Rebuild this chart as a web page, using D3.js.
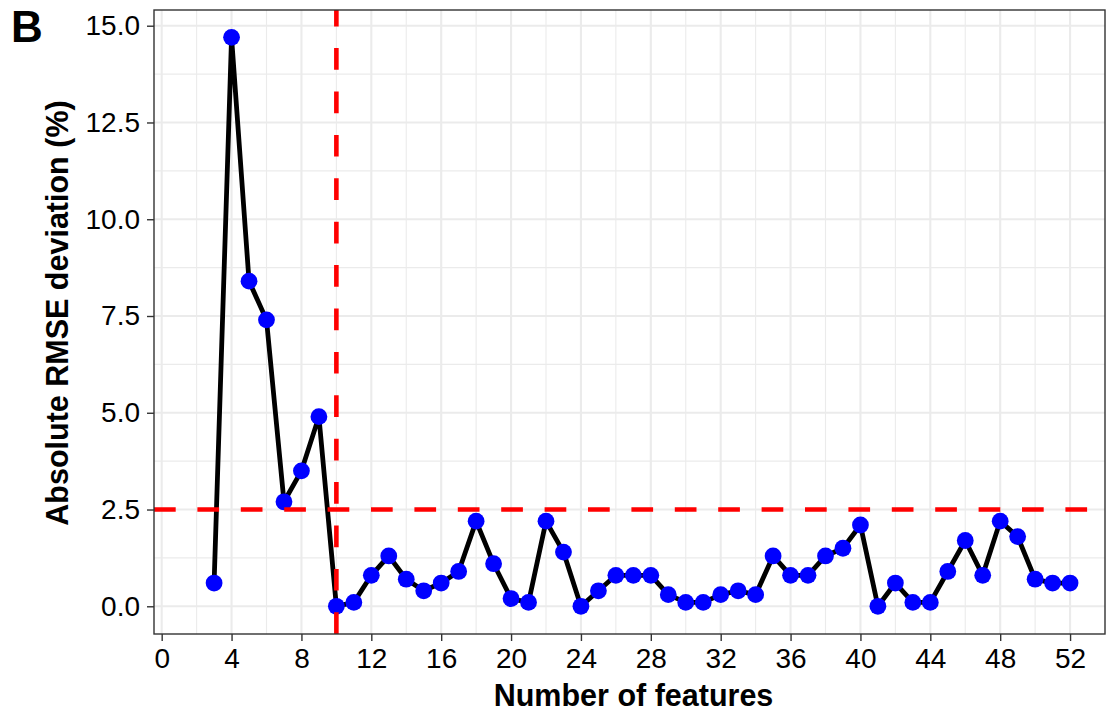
<!DOCTYPE html>
<html>
<head>
<meta charset="utf-8">
<script src="https://cdn.jsdelivr.net/npm/d3@7"></script>
<style>
  html, body { margin: 0; padding: 0; background: #fff; }
  svg { display: block; }
  text { font-family: "Liberation Sans", Arial, Helvetica, sans-serif; }
</style>
</head>
<body>
<svg id="chart" width="1106" height="711"></svg>
<script>
// ---- data ----
const features = [3,4,5,6,7,8,9,10,11,12,13,14,15,16,17,18,19,20,21,22,23,24,25,26,27,
  28,29,30,31,32,33,34,35,36,37,38,39,40,41,42,43,44,45,46,47,48,49,50,51,52];
const deviation = [0.6,14.7,8.4,7.4,2.7,3.5,4.9,0.0,0.1,0.8,1.3,0.7,0.4,0.6,0.9,2.2,1.1,0.2,0.1,2.2,1.4,0.0,0.4,0.8,0.8,
  0.8,0.3,0.1,0.1,0.3,0.4,0.3,1.3,0.8,0.8,1.3,1.5,2.1,0.0,0.6,0.1,0.1,0.9,1.7,0.8,2.2,1.8,0.7,0.6,0.6];
const xTicks = [0,4,8,12,16,20,24,28,32,36,40,44,48,52];
const xMinor = [2,6,10,14,18,22,26,30,34,38,42,46,50];
const yTicks = [0,2.5,5,7.5,10,12.5,15];
const yMinor = [1.25,3.75,6.25,8.75,11.25,13.75];
const vlineX = 10;
const hlineY = 2.5;
const xLabel = "Number of features";
const yLabel = "Absolute RMSE deviation (%)";
const panelTag = "B";

// ---- layout ----
const L = 154, R = 1105, T = 10, B = 634;
const svg = d3.select("#chart");
const x = d3.scaleLinear().domain([-0.44, 54.0]).range([L, R]);
const y = d3.scaleLinear().domain([-0.716, 15.406]).range([B, T]);

svg.append("defs").append("clipPath").attr("id", "clip")
  .append("rect").attr("x", L).attr("y", T).attr("width", R - L).attr("height", B - T);

const grid = svg.append("g");
grid.selectAll(".xminor").data(xMinor).join("line")
  .attr("x1", d => x(d)).attr("x2", d => x(d)).attr("y1", T).attr("y2", B)
  .attr("stroke", "#ebebeb").attr("stroke-width", 1.1);
grid.selectAll(".yminor").data(yMinor).join("line")
  .attr("y1", d => y(d)).attr("y2", d => y(d)).attr("x1", L).attr("x2", R)
  .attr("stroke", "#ebebeb").attr("stroke-width", 1.1);
grid.selectAll(".xmajor").data(xTicks).join("line")
  .attr("x1", d => x(d)).attr("x2", d => x(d)).attr("y1", T).attr("y2", B)
  .attr("stroke", "#ebebeb").attr("stroke-width", 2.1);
grid.selectAll(".ymajor").data(yTicks).join("line")
  .attr("y1", d => y(d)).attr("y2", d => y(d)).attr("x1", L).attr("x2", R)
  .attr("stroke", "#ebebeb").attr("stroke-width", 2.1);

const plot = svg.append("g").attr("clip-path", "url(#clip)");
const pts = features.map((f, i) => ({ f, v: deviation[i] }));

plot.append("path").datum(pts)
  .attr("fill", "none").attr("stroke", "#000").attr("stroke-width", 4.8)
  .attr("stroke-linejoin", "round")
  .attr("d", d3.line().x(d => x(d.f)).y(d => y(d.v)));

plot.selectAll("circle").data(pts).join("circle")
  .attr("cx", d => x(d.f)).attr("cy", d => y(d.v)).attr("r", 8.4)
  .attr("fill", "#0000ff");

// reference lines (drawn on top)
plot.append("line")
  .attr("x1", L).attr("x2", R).attr("y1", y(hlineY)).attr("y2", y(hlineY))
  .attr("stroke", "#ff0000").attr("stroke-width", 4.6).attr("stroke-dasharray", "21.7,21.7");
plot.append("line")
  .attr("x1", x(vlineX)).attr("x2", x(vlineX)).attr("y1", B).attr("y2", T)
  .attr("stroke", "#ff0000").attr("stroke-width", 4.6).attr("stroke-dasharray", "21.7,21.7");

// panel border
svg.append("rect").attr("x", L).attr("y", T).attr("width", R - L).attr("height", B - T)
  .attr("fill", "none").attr("stroke", "#333").attr("stroke-width", 1.4);

// axes
const xAxis = svg.append("g").attr("transform", `translate(0,${B})`)
  .call(d3.axisBottom(x).tickValues(xTicks).tickSize(7).tickPadding(7).tickFormat(d3.format("d")));
const yAxis = svg.append("g").attr("transform", `translate(${L},0)`)
  .call(d3.axisLeft(y).tickValues(yTicks).tickSize(7).tickPadding(7).tickFormat(d3.format(".1f")));
[xAxis, yAxis].forEach(a => {
  a.select(".domain").remove();
  a.selectAll(".tick line").attr("stroke", "#333").attr("stroke-width", 1.4);
  a.selectAll(".tick text").attr("fill", "#000").style("font-size", "28px")
    .style("font-family", "'Liberation Sans', Arial, sans-serif");
});

// titles
svg.append("text").attr("x", (L + R) / 2 + 4).attr("y", 706)
  .attr("text-anchor", "middle").style("font-size", "30.5px").style("font-weight", "bold")
  .text(xLabel);
svg.append("text").attr("transform", `translate(68,${(T + B) / 2 - 9}) rotate(-90)`)
  .attr("text-anchor", "middle").style("font-size", "30.5px").style("font-weight", "bold")
  .text(yLabel);
svg.append("text").attr("x", 11).attr("y", 42)
  .style("font-size", "44px").style("font-weight", "bold").text(panelTag);
</script>
</body>
</html>
